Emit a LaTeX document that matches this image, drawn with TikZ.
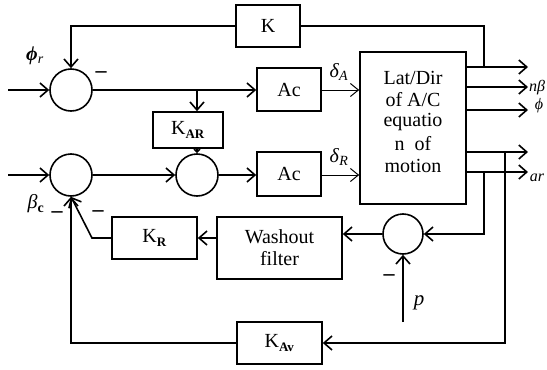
\documentclass[tikz,border=0pt]{standalone}
\usepackage{fontspec}
\setmainfont{Liberation Serif}
\usetikzlibrary{arrows.meta}
\begin{document}
\begin{tikzpicture}[x=1pt,y=-1pt,
  line width=1.6pt,
  every node/.style={font=\fontsize{20}{22}\selectfont},
  blk/.style={draw,rectangle,inner sep=0pt,line width=1.6pt},
  sumc/.style={draw,circle,minimum size=42pt,inner sep=0pt,line width=1.6pt},
  arr/.style={-{Straight Barb[length=8pt,width=14pt,line width=1.6pt]}},
  thinarr/.style={line width=0.9pt,-{Straight Barb[length=8pt,width=13pt,line width=1pt]}},
  lbl/.style={inner sep=0pt},
  minus/.style={inner sep=0pt,font=\fontsize{22}{22}\selectfont\bfseries}]
\useasboundingbox (0,0) rectangle (547,370);
% blocks
\node[blk,minimum width=64pt,minimum height=42pt] (K) at (268,26) {K};
\node[blk,minimum width=64pt,minimum height=43pt] (ac1) at (289,89.5) {Ac};
\node[blk,minimum width=64pt,minimum height=44pt] (ac2) at (289,174) {Ac};
\node[blk,minimum width=70pt,minimum height=36pt] (kar) at (188,130) {K\textsubscript{\fontsize{13}{13}\selectfont\bfseries AR}};
\node[blk,minimum width=106pt,minimum height=152pt] (eom) at (413,128) {};
\node[blk,minimum width=125pt,minimum height=62pt,align=center] (wf) at (279.5,248) {Washout\\filter};
\node[blk,minimum width=85pt,minimum height=42pt] (kr) at (154.5,238) {K\textsubscript{\fontsize{13}{13}\selectfont\bfseries R}};
\node[blk,minimum width=85pt,minimum height=42pt] (kav) at (279.5,343) {K\textsubscript{\fontsize{13}{13}\selectfont\bfseries Av}};
% big block text
\node[lbl] (t1) at (413,78) {Lat/Dir};
\node[lbl] (t2) at (413,100) {of A/C};
\node[lbl] (t3) at (413,122) {equatio};
\node[lbl] (t4) at (413,144) {n\ \ of};
\node[lbl] (t5) at (413,166) {motion};
% summing junctions
\node[sumc] (s1) at (71,90) {};
\node[sumc] (s3) at (71,175) {};
\node[sumc] (s2) at (197,175) {};
\node[sumc,minimum size=40pt] (s4) at (403,234) {};
% coordinates
\coordinate (in1) at (8,90);
\coordinate (in3) at (8,175);
\coordinate (b1) at (197,90);
\coordinate (kx) at (484,26);
\coordinate (o1) at (528,67);
\coordinate (o2) at (528,87);
\coordinate (o3) at (528,110);
\coordinate (o4) at (528,152);
\coordinate (o5) at (528,172);
\coordinate (t4a) at (505,152);
\coordinate (t5a) at (484,172);
\coordinate (pin) at (403,322);
\coordinate (kb) at (92,238);
% connectors
\draw[arr] (in1) -- (s1.west);
\draw[arr] (in3) -- (s3.west);
\draw[arr] (K.west) -| (s1.north);
\draw[arr] (s1.east) -- (s1.east -| ac1.west);
\draw[arr] (b1) -- (b1 |- kar.north);
\draw[-{Straight Barb[length=3pt,width=6pt,line width=1.6pt]}] (s2.north |- kar.south) -- (s2.north);
\draw[arr] (s3.east) -- (s2.west);
\draw[arr] (s2.east) -- (s2.east -| ac2.west);
\draw[thinarr] (ac1.east |- s1.east) -- (eom.west |- s1.east);
\draw[thinarr] (ac2.east |- s2.east) -- (eom.west |- s2.east);
\draw[arr] (eom.east |- o1) -- (o1);
\draw[arr] (eom.east |- o2) -- (o2);
\draw[arr] (eom.east |- o3) -- (o3);
\draw[arr] (eom.east |- o4) -- (o4);
\draw[arr] (eom.east |- o5) -- (o5);
\draw (K.east) -- (kx) -- (kx |- o1);
\draw[arr] (t4a) |- (kav.east);
\draw[arr] (t5a) |- (s4.east);
\draw[arr] (s4.west) -- (s4.west -| wf.east);
\draw[arr] (pin) -- (s4.south);
\draw[arr] (wf.west |- kr.east) -- (kr.east);
\draw[arr] (kr.west) -- (kb) -- (s3.south);
\draw[arr] (kav.west) -| (s3.south);
% labels
\node[lbl] (phir) at (35,56) {\textit{\textbf{ϕ}}\textsubscript{\textit{r}}};
\node[minus] (m1) at (101,75) {–};
\node[lbl] (dA) at (339,72) {\textit{δ}\textsubscript{\textit{A}}};
\node[lbl] (dR) at (339,157) {\textit{δ}\textsubscript{\textit{R}}};
\node[lbl] (betac) at (36,204) {\textit{β}\textsubscript{\bfseries c}};
\node[minus] (m2) at (57,215) {–};
\node[minus] (m3) at (98,214) {–};
\node[minus] (m4) at (389,278) {–};
\node[lbl,font=\fontsize{21}{21}\selectfont] (plbl) at (419,303) {\textit{p}};
\node[lbl,font=\fontsize{16}{16}\selectfont] (nb) at (537,88) {\textit{nβ}};
\node[lbl,font=\fontsize{16}{16}\selectfont] (ph) at (539,106) {\textit{ϕ}};
\node[lbl,font=\fontsize{16}{16}\selectfont] (ar) at (537,178) {\textit{ar}};
\end{tikzpicture}
\end{document}
